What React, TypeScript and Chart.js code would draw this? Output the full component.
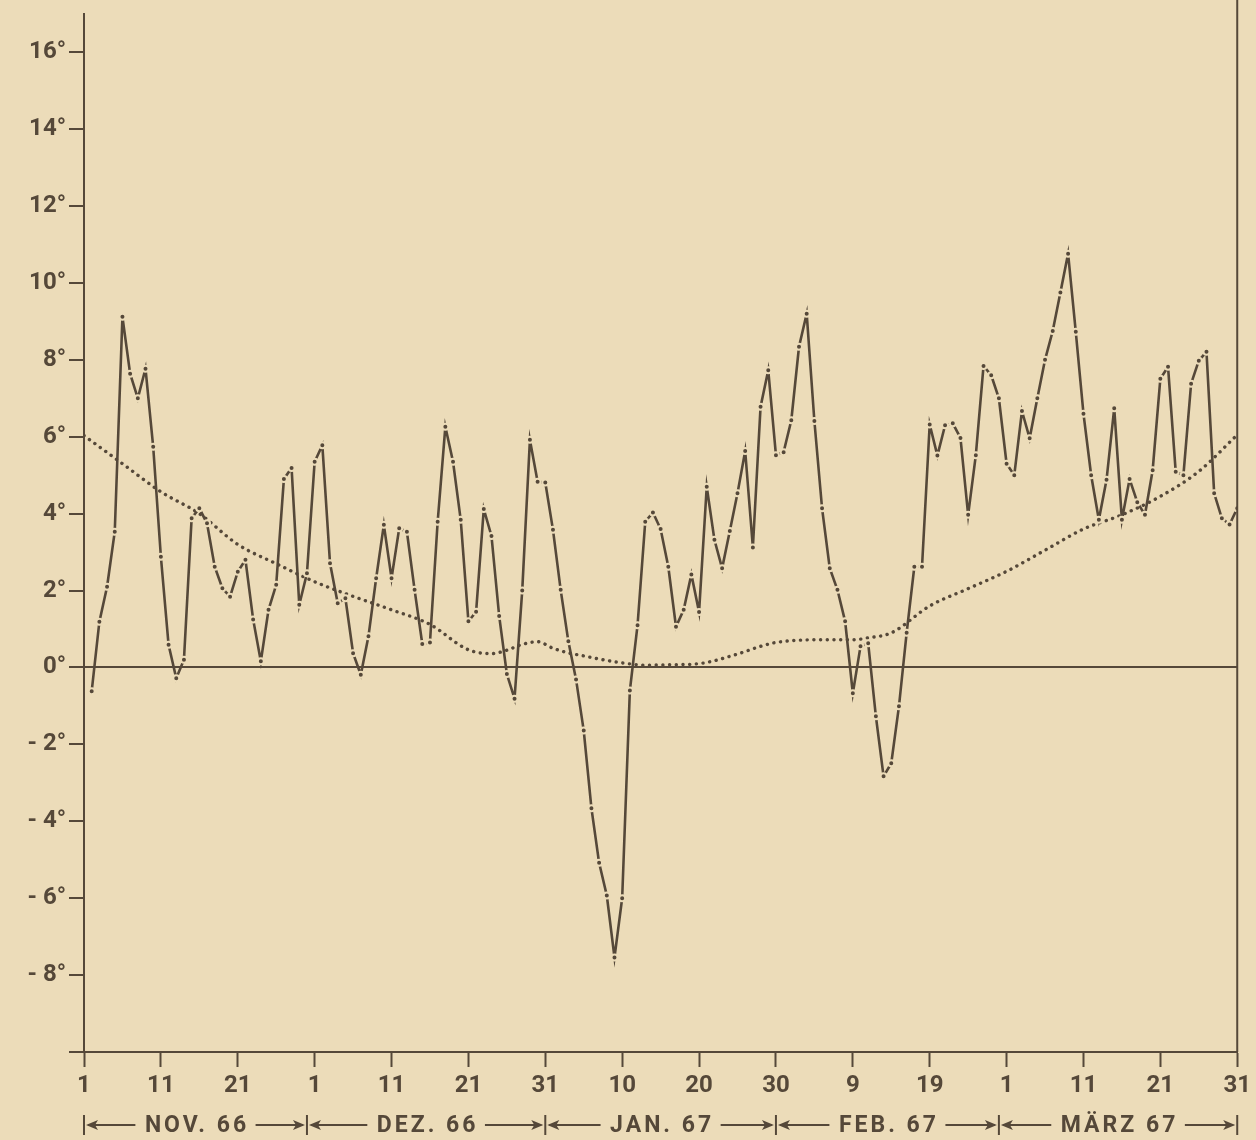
import React, { useEffect, useRef } from "react";
import { Chart, registerables } from "chart.js";

Chart.register(...registerables);

// Daily temperature, 1 Nov 1966 (day 0) .. 31 Mar 1967 (day 150), in °C
const dailyTemp: (number | null)[] = [
  null, -0.62, 1.19, 2.1, 3.53, 9.12, 7.64, 7.0, 7.77, 5.74,
  2.88, 0.59, -0.28, 0.2, 3.88, 4.14, 3.75, 2.62, 2.06, 1.84,
  2.49, 2.8, 1.25, 0.16, 1.5, 2.15, 4.9, 5.19, 1.63, 2.45,
  5.35, 5.78, 2.71, 1.67, 1.8, 0.37, -0.19, 0.81, 2.32, 3.71,
  2.32, 3.62, 3.53, 2.02, 0.61, 0.65, 3.79, 6.26, 5.35, 3.84,
  1.2, 1.45, 4.12, 3.42, 1.34, -0.17, -0.81, 2.0, 5.92, 4.83,
  4.81, 3.58, 2.02, 0.68, -0.31, -1.64, -3.66, -5.08, -5.93, -7.54,
  -6.0, -0.6, 1.1, 3.79, 4.03, 3.6, 2.62, 1.06, 1.5, 2.42,
  1.44, 4.7, 3.32, 2.58, 3.55, 4.53, 5.63, 3.12, 6.78, 7.73,
  5.52, 5.6, 6.43, 8.34, 9.2, 6.41, 4.14, 2.58, 2.02, 1.2,
  -0.67, 0.55, 0.63, -1.27, -2.83, -2.49, -1.01, 0.9, 2.62, 2.62,
  6.32, 5.51, 6.3, 6.35, 5.97, 3.97, 5.52, 7.84, 7.6, 7.0,
  5.3, 5.0, 6.67, 5.96, 7.0, 8.0, 8.75, 9.75, 10.76, 8.73,
  6.6, 5.0, 3.84, 4.88, 6.74, 3.84, 4.9, 4.3, 3.97, 5.13,
  7.51, 7.82, 5.09, 5.0, 7.38, 7.98, 8.21, 4.53, 3.88, 3.72,
  4.14,
];

// Long-term normal (dotted curve), sampled days and values
const normalDays = [0, 5, 10, 15, 20, 25, 30, 35, 40, 45, 50, 53, 55, 57, 59, 61, 63, 65, 67, 70, 73, 76, 80, 85, 88, 90, 95, 100, 102, 105, 110, 115, 120, 125, 130, 135, 140, 145, 150];
const normalValues = [6.03, 5.3, 4.57, 4.0, 3.2, 2.7, 2.23, 1.85, 1.5, 1.12, 0.46, 0.36, 0.45, 0.6, 0.67, 0.5, 0.38, 0.3, 0.22, 0.12, 0.06, 0.07, 0.1, 0.35, 0.55, 0.65, 0.72, 0.72, 0.77, 0.9, 1.6, 2.05, 2.5, 3.05, 3.6, 3.97, 4.45, 5.1, 6.05];

const xTickDays = [0, 10, 20, 30, 40, 50, 60, 70, 80, 90, 100, 110, 120, 130, 140, 150];
const xTickLabels = ["1", "11", "21", "1", "11", "21", "31", "10", "20", "30", "9", "19", "1", "11", "21", "31"];
const yTickValues = [-10, -8, -6, -4, -2, 0, 2, 4, 6, 8, 10, 12, 14, 16];

const monthLabels = ["NOV. 66", "DEZ. 66", "JAN. 67", "FEB. 67", "MÄRZ 67"];
const monthBoundaries = [0, 29, 60, 90, 119, 150];

const PAPER = "#ecdcb9";
const INK = "#554839";
const FONT = "Roboto, 'DejaVu Sans Condensed', sans-serif";

const paperPlugin = {
  id: "paper",
  beforeDraw(chart: any) {
    const { ctx, width, height } = chart;
    ctx.save();
    ctx.fillStyle = PAPER;
    ctx.fillRect(0, 0, width, height);
    ctx.restore();
  },
};

const framePlugin = {
  id: "frame",
  afterDraw(chart: any) {
    const ctx = chart.ctx;
    const xs = chart.scales.x;
    const area = chart.chartArea;
    ctx.save();
    ctx.strokeStyle = INK;
    ctx.fillStyle = INK;
    ctx.lineWidth = 2;
    // right border line
    const xr = xs.getPixelForValue(150);
    ctx.beginPath();
    ctx.moveTo(xr, 0);
    ctx.lineTo(xr, area.bottom);
    ctx.stroke();

    // month brackets
    const y = 1125;
    ctx.font = `bold 23px ${FONT}`;
    (ctx as any).letterSpacing = "3px";
    ctx.textAlign = "center";
    ctx.textBaseline = "middle";
    monthBoundaries.forEach((b) => {
      const x = xs.getPixelForValue(b);
      ctx.beginPath();
      ctx.moveTo(x, y - 10);
      ctx.lineTo(x, y + 10);
      ctx.stroke();
    });
    const head = (tx: number, dir: number) => {
      ctx.beginPath();
      ctx.moveTo(tx, y);
      ctx.lineTo(tx + dir * 12, y - 5);
      ctx.lineTo(tx + dir * 9, y);
      ctx.lineTo(tx + dir * 12, y + 5);
      ctx.closePath();
      ctx.fill();
    };
    for (let i = 0; i < monthLabels.length; i++) {
      const x0 = xs.getPixelForValue(monthBoundaries[i]);
      const x1 = xs.getPixelForValue(monthBoundaries[i + 1]);
      const mid = (x0 + x1) / 2;
      const w = ctx.measureText(monthLabels[i]).width;
      ctx.fillText(monthLabels[i], mid + 1.5, y + 1);
      const l0 = mid - w / 2 - 8;
      const r0 = mid + w / 2 + 8;
      ctx.beginPath();
      ctx.moveTo(l0, y);
      ctx.lineTo(x0 + 4, y);
      ctx.moveTo(r0, y);
      ctx.lineTo(x1 - 4, y);
      ctx.stroke();
      head(x0 + 2, 1);
      head(x1 - 2, -1);
    }
    ctx.restore();
  },
};

export default function App() {
  const ref = useRef<HTMLCanvasElement | null>(null);

  useEffect(() => {
    if (!ref.current) return;
    Chart.defaults.font.family = FONT;
    const chart = new Chart(ref.current, {
      type: "line",
      data: {
        datasets: [
          {
            label: "Tagesmittel",
            data: dailyTemp.map((v, i) => ({ x: i, y: v })) as any,
            borderColor: INK,
            borderWidth: 2.6,
            pointRadius: 3,
            pointBackgroundColor: INK,
            pointBorderColor: PAPER,
            pointBorderWidth: 2,
            tension: 0,
            spanGaps: false,
          },
          {
            label: "Normalwert",
            data: normalDays.map((d, i) => ({ x: d, y: normalValues[i] })) as any,
            borderColor: INK,
            borderWidth: 3.4,
            borderDash: [0.1, 6.6],
            borderCapStyle: "round",
            pointRadius: 0,
            cubicInterpolationMode: "monotone",
          },
        ],
      },
      options: {
        animation: false,
        responsive: true,
        maintainAspectRatio: false,
        events: [],
        layout: { padding: { top: 10, right: 16, left: 0, bottom: 0 } },
        plugins: { legend: { display: false }, tooltip: { enabled: false } },
        scales: {
          x: {
            type: "linear",
            min: 0,
            max: 150,
            afterBuildTicks: (s: any) => {
              s.ticks = xTickDays.map((v) => ({ value: v }));
            },
            afterFit: (s: any) => {
              s.height = 88;
            },
            ticks: {
              autoSkip: false,
              maxRotation: 0,
              padding: 5,
              color: INK,
              font: { size: 24, weight: "bold" },
              callback: (_v: any, i: number) => xTickLabels[i],
            },
            grid: {
              drawOnChartArea: false,
              drawTicks: true,
              tickLength: 15,
              tickColor: INK,
              tickWidth: 2,
            },
            border: { color: INK, width: 2 },
          },
          y: {
            type: "linear",
            min: -10,
            max: 17,
            afterBuildTicks: (s: any) => {
              s.ticks = yTickValues.map((v) => ({ value: v }));
            },
            afterFit: (s: any) => {
              s.width = 84;
            },
            ticks: {
              padding: 3,
              color: INK,
              font: { size: 24, weight: "bold", lineHeight: 0.9 },
              callback: (v: any) => {
                const n = Number(v);
                if (n === -10) return "";
                return n < 0 ? `- ${-n}°` : `${n}°`;
              },
            },
            grid: {
              color: (c: any) => (c.tick && c.tick.value === 0 ? INK : "rgba(0,0,0,0)"),
              lineWidth: 2,
              drawTicks: true,
              tickLength: 15,
              tickColor: INK,
              tickWidth: 2,
            },
            border: { color: INK, width: 2 },
          },
        },
      },
      plugins: [paperPlugin, framePlugin],
    });
    return () => chart.destroy();
  }, []);

  return (
    <div style={{ position: "absolute", left: 0, top: 0, width: 1256, height: 1140, background: PAPER }}>
      <canvas ref={ref} />
    </div>
  );
}
